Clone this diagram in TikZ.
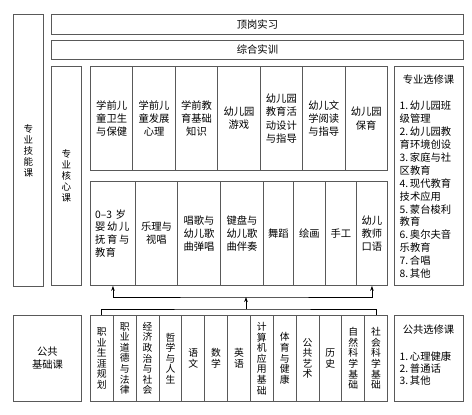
\documentclass[tikz,border=0pt]{standalone}
\usepackage{fontspec}
\setmainfont{Noto Sans CJK SC}
\usetikzlibrary{arrows.meta,positioning}

\newcommand\coretxt{\fontsize{10.3}{13.3}\selectfont}
\newcommand\sidetxt{\fontsize{9.5}{11}\selectfont}
\newcommand\coltxt{\fontsize{9.8}{10.6}\selectfont}
\newcommand\listtxt{\fontsize{10.3}{12.9}\selectfont}

\begin{document}
\begin{tikzpicture}[x=1pt,y=-1pt,>={Stealth[length=5pt,width=3.6pt]},
  cell/.style={draw=black!65,line width=0.9pt,inner sep=0pt,anchor=north west,align=center,font=\coretxt},
  lbl/.style={inner sep=0pt,align=left,font=\listtxt}]
\useasboundingbox (0,0) rectangle (472,415);

% top bars
\node[cell,minimum width=30,minimum height=272,font=\sidetxt] (jineng) at (13,14) {专\\业\\技\\能\\课};
\node[cell,minimum width=412,minimum height=20] (dinggang) at (51,14) {顶岗实习};
\node[cell,minimum width=412,minimum height=19] (zonghe) at (51,40) {综合实训};
\node[cell,minimum width=30,minimum height=219,font=\sidetxt] (hexin) at (51,66) {专\\业\\核\\心\\课};

% core courses, upper row
\foreach \t [count=\i] in {{学前儿\\童卫生\\与保健},{学前儿\\童发展\\心理},{学前教\\育基础\\知识},{幼儿园\\游戏},{幼儿园\\教育活\\动设计\\与指导},{幼儿文\\学阅读\\与指导},{幼儿园\\保育}}
  \node[cell,minimum width=42.43,minimum height=104] (u\i) at ({90+42.43*(\i-1)},66) {\t};

% core courses, lower row
\foreach \x/\w/\t [count=\i] in {90/45/{},135/42/{乐理与\\视唱},177/43/{唱歌与\\幼儿歌\\曲弹唱},220/43/{键盘与\\幼儿歌\\曲伴奏},263/30/{舞蹈},293/32/{绘画},325/31/{手工},356/31/{幼儿\\教师\\口语}}
  \node[cell,minimum width=\w,minimum height=104] (k\i) at (\x,181) {\t};
\node[lbl,align=left,anchor=west] at ([xshift=5pt]k1.west) {0–3\,\,岁\\婴\,幼\,儿\\抚\,育\,与\\教育};

% electives
\node[cell,minimum width=69,minimum height=219] (xuanxiu) at (394,66) {};
\node[lbl] (xxtitle) at (428.5,80) {专业选修课};
\node[lbl,anchor=north west] (xxlist) at (399.5,101) {1.\,幼儿园班\\级管理\\2.\,幼儿园教\\育环境创设\\3.\,家庭与社\\区教育\\4.\,现代教育\\技术应用\\5.\,蒙台梭利\\教育\\6.\,奥尔夫音\\乐教育\\7.\,合唱\\8.\,其他};

% public basics
\node[cell,minimum width=68,minimum height=86] (jichu) at (13,315) {公共\\基础课};
\foreach \t [count=\i] in {{职\\业\\生\\涯\\规\\划},{职\\业\\道\\德\\与\\法\\律},{经\\济\\政\\治\\与\\社\\会},{哲\\学\\与\\人\\生},{语\\文},{数\\学},{英\\语},{计\\算\\机\\应\\用\\基\\础},{体\\育\\与\\健\\康},{公\\共\\艺\\术},{历\\史},{自\\然\\科\\学\\基\\础},{社\\会\\科\\学\\基\\础}}
  \node[cell,minimum width=22.85,minimum height=86,font=\coltxt] (p\i) at ({90+22.85*(\i-1)},315) {\t};

\node[cell,minimum width=69,minimum height=86] (gongxuan) at (394,315) {};
\node[lbl] (gxtitle) at (428.5,330) {公共选修课};
\node[lbl,anchor=north west,font=\fontsize{10.3}{12}\selectfont] (gxlist) at (399.5,352) {1.\,心理健康\\2.\,普通话\\3.\,其他};

% connectors
\coordinate (fork) at (246,309);
\coordinate (split) at (246,297);
\draw[line width=0.8pt] (p1.north) |- (fork) -| (p13.north);
\draw[->,line width=0.8pt] (fork) -- (split);
\draw[<->,line width=0.8pt] (k1.south) |- (split) -| (k8.south);
\end{tikzpicture}
\end{document}
